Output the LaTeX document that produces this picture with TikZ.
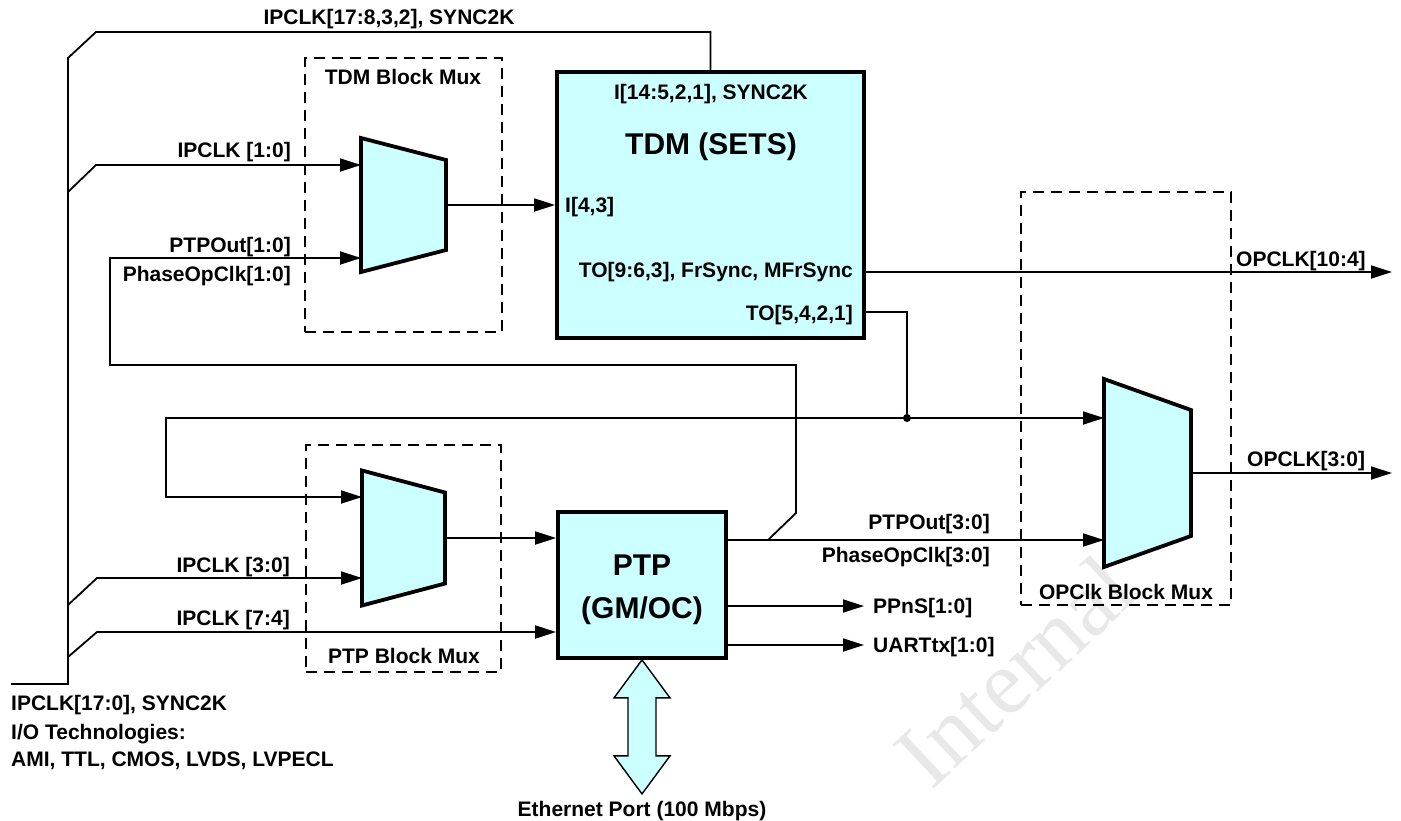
\documentclass[tikz,border=0pt]{standalone}
\usepackage{fontspec}
\setmainfont{Liberation Sans}
\newfontfamily\wmfont{Liberation Serif}
\usetikzlibrary{arrows.meta}
\definecolor{blkfill}{HTML}{CCFFFF}
\newcommand{\lblsize}{\bfseries\fontsize{21}{24}\selectfont}
\newcommand{\ttlsize}{\bfseries\fontsize{30}{34}\selectfont}
% mux: name, left x, centre y, width, left half height, right half height
\newcommand{\muxdraw}[6]{%
	\draw[muxst] (#2,#3-#5) -- (#2+#4,#3-#6) -- (#2+#4,#3+#6) -- (#2,#3+#5) -- cycle;
	\coordinate (#1-out) at (#2+#4,#3);}
\begin{document}
\begin{tikzpicture}[x=1pt,y=-1pt,>={Triangle[length=21pt,width=13pt]},
		wire/.style={line width=1.8pt},
		blk/.style={draw,line width=3.8pt,fill=blkfill,inner sep=0pt},
		muxst/.style={draw,line width=3.8pt,fill=blkfill,line join=miter},
		grp/.style={draw,line width=1.6pt,dash pattern=on 11pt off 7pt,inner sep=0pt},
		dblarr/.style={draw,line width=1.4pt,fill=blkfill},
		lbl/.style={font=\lblsize,inner sep=0pt},
		ttl/.style={font=\ttlsize,inner sep=0pt}]
	\useasboundingbox (0,0) rectangle (1401,820);
	% watermark
	\node[font=\wmfont\fontsize{92}{100}\selectfont,text=gray!18,inner sep=0pt,anchor=base,rotate=43] (wm) at (1036,694) {Internal};
	% blocks
	\node[blk,minimum width=307pt,minimum height=266pt] (tdm) at (710.5,205) {};
	\node[blk,minimum width=168pt,minimum height=146pt] (ptp) at (642,585) {};
	\node[grp,minimum width=197pt,minimum height=274pt] (tdmgrp) at (403.5,195) {};
	\node[grp,minimum width=195pt,minimum height=227pt] (ptpgrp) at (403.5,558.5) {};
	\node[grp,minimum width=210pt,minimum height=413pt] (opgrp) at (1126,398.5) {};
	\muxdraw{mA}{361}{205}{85}{67}{45}
	\muxdraw{mB}{362}{538}{83}{67.5}{45.5}
	\muxdraw{mC}{1104}{473}{87}{94}{63}
	% mux inputs and end points
	\coordinate (mA1) at (361,165);
	\coordinate (mA2) at (361,258);
	\coordinate (mB1) at (362,497);
	\coordinate (mB2) at (362,578);
	\coordinate (mC1) at (1104,418);
	\coordinate (mC2) at (1104,540);
	\coordinate (busin) at (11,684);
	\coordinate (jn) at (907,418);
	\coordinate (toB) at (907,312);
	\coordinate (opA) at (1392,272);
	\coordinate (opB) at (1392,473);
	\coordinate (pp) at (864,606);
	\coordinate (ua) at (864,645);
	\coordinate (kink) at (768,540);
	\coordinate (lpA) at (166,418);
	\coordinate (lpB) at (110,365);
	\coordinate (ipB) at (97,632);
	% input bus
	\draw[wire] (busin) -- (68,684) -- (68,58) -- (96,32) -| (tdm.north);
	\draw[wire,->] (68,192) -- (96,165) -- (mA1);
	\draw[wire,->] (68,605) -- (97,578) -- (mB2);
	\draw[wire,->] (68,657) -- (ipB) -- (ipB -| ptp.west);
	% mux outputs
	\draw[wire,->] (mA-out) -- (tdm.west);
	\draw[wire,->] (mB-out) -- (mB-out -| ptp.west);
	\draw[wire,->] (mC-out) -- (opB);
	% TDM outputs
	\draw[wire,->] (opA -| tdm.east) -- (opA);
	\draw[wire] (toB -| tdm.east) -- (toB) -- (jn);
	\draw[wire,->] (jn) -- (mC1);
	\draw[wire,->] (jn) -- (lpA) |- (mB1);
	\fill (jn) circle (4pt);
	% PTP outputs
	\draw[wire,->] (mC2 -| ptp.east) -- (mC2);
	\draw[wire,->] (kink) -- (796,513) |- (lpB) |- (mA2);
	\draw[wire,->] (pp -| ptp.east) -- (pp);
	\draw[wire,->] (ua -| ptp.east) -- (ua);
	\draw[dblarr] (ptp.south) -- ++(28,38) -- ++(-14,0) -- ++(0,58) -- ++(14,0) -- ++(-28,38) coordinate (eth)
		-- ++(-28,-38) -- ++(14,0) -- ++(0,-58) -- ++(-14,0) -- cycle;
	% labels
	\node[lbl,anchor=base] (busl) at (389,24) {IPCLK[17:8,3,2], SYNC2K};
	\node[lbl,anchor=base] (tdmgrpl) at (403,84) {TDM Block Mux};
	\node[lbl,anchor=base east] (ip1l) at (291,157) {IPCLK [1:0]};
	\node[lbl,anchor=base east] (ptpo1l) at (291,252) {PTPOut[1:0]};
	\node[lbl,anchor=base east] (phs1l) at (291,281) {PhaseOpClk[1:0]};
	\node[lbl,anchor=base] (tdmin1) at (711,99) {I[14:5,2,1], SYNC2K};
	\node[ttl,anchor=base] (tdmttl) at (711,154) {TDM (SETS)};
	\node[lbl,anchor=base west] (tdmin2) at (565,212) {I[4,3]};
	\node[lbl,anchor=base east] (tdmo1) at (853,277) {TO[9:6,3], FrSync, MFrSync};
	\node[lbl,anchor=base east] (tdmo2) at (853,320) {TO[5,4,2,1]};
	\node[lbl,anchor=base west] (opAl) at (1236,266) {OPCLK[10:4]};
	\node[lbl,anchor=base west] (opBl) at (1247,466) {OPCLK[3:0]};
	\node[lbl,anchor=base east] (ptpo3l) at (990,529) {PTPOut[3:0]};
	\node[lbl,anchor=base east] (phs3l) at (990,562) {PhaseOpClk[3:0]};
	\node[lbl,anchor=base] (opgrpl) at (1126,599) {OPClk Block Mux};
	\node[lbl,anchor=base west] (ppl) at (873,613) {PPnS[1:0]};
	\node[lbl,anchor=base west] (ual) at (873,652) {UARTtx[1:0]};
	\node[ttl,anchor=base] (ptpttl) at (642,575) {PTP};
	\node[ttl,anchor=base] (ptpttl2) at (642,618) {(GM/OC)};
	\node[lbl,anchor=base east] (ip3l) at (290,572) {IPCLK [3:0]};
	\node[lbl,anchor=base east] (ip7l) at (290,625) {IPCLK [7:4]};
	\node[lbl,anchor=base] (ptpgrpl) at (404,663) {PTP Block Mux};
	\node[lbl,anchor=base west] (iol1) at (11,710) {IPCLK[17:0], SYNC2K};
	\node[lbl,anchor=base west] (iol2) at (11,739) {I/O Technologies:};
	\node[lbl,anchor=base west] (iol3) at (11,766) {AMI, TTL, CMOS, LVDS, LVPECL};
	\node[lbl,anchor=base] (ethl) at (642,816) {Ethernet Port (100 Mbps)};
\end{tikzpicture}
\end{document}
